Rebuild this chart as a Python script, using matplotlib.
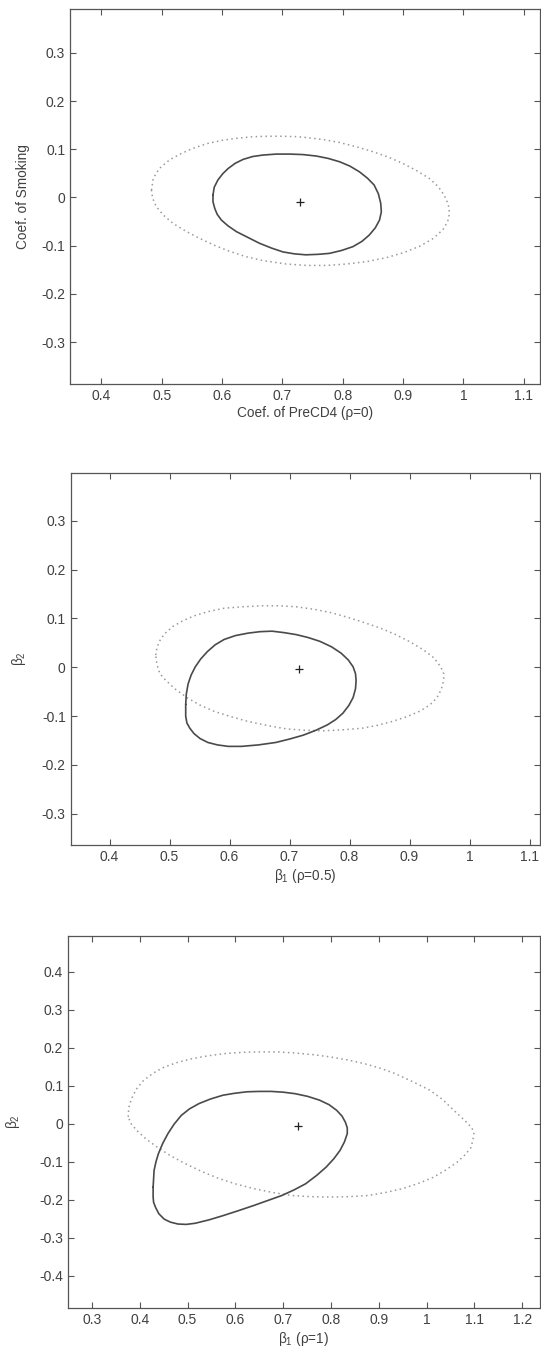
import matplotlib
matplotlib.use("Agg")
import matplotlib.pyplot as plt

plt.rcParams['font.family'] = ['Liberation Sans', 'DejaVu Sans']
plt.rcParams['mathtext.fontset'] = 'custom'
plt.rcParams['mathtext.rm'] = 'Liberation Sans'
plt.rcParams['mathtext.it'] = 'Liberation Sans:italic'
plt.rcParams['axes.unicode_minus'] = False

# ---------------- data ----------------
# Panel 1 (rho = 0)
p1_solid_x = [0.585, 0.587, 0.593, 0.601, 0.610, 0.622, 0.635, 0.651, 0.668, 0.690, 0.712, 0.734,
              0.756, 0.776, 0.795, 0.812, 0.828, 0.841, 0.852, 0.859, 0.863, 0.864, 0.861, 0.854,
              0.844, 0.832, 0.817, 0.798, 0.778, 0.759, 0.739, 0.720, 0.701, 0.682, 0.662, 0.643,
              0.624, 0.610, 0.599, 0.592, 0.588, 0.585, 0.585]
p1_solid_y = [0.005, 0.021, 0.036, 0.049, 0.060, 0.071, 0.079, 0.085, 0.088, 0.090, 0.090, 0.089,
              0.086, 0.081, 0.074, 0.065, 0.053, 0.040, 0.026, 0.008, -0.012, -0.030, -0.047, -0.063,
              -0.078, -0.091, -0.102, -0.110, -0.116, -0.118, -0.119, -0.117, -0.113, -0.105,
              -0.095, -0.083, -0.071, -0.059, -0.047, -0.035, -0.023, -0.009, 0.005]
p1_dot_x = [0.483, 0.486, 0.496, 0.513, 0.532, 0.552, 0.576, 0.602, 0.626, 0.651, 0.676, 0.701,
            0.726, 0.750, 0.773, 0.795, 0.823, 0.850, 0.875, 0.899, 0.922, 0.943, 0.958, 0.968,
            0.975, 0.977, 0.974, 0.966, 0.950, 0.928, 0.902, 0.872, 0.840, 0.807, 0.773, 0.740,
            0.706, 0.668, 0.640, 0.613, 0.587, 0.563, 0.540, 0.519, 0.503, 0.491, 0.485, 0.483]
p1_dot_y = [0.015, 0.040, 0.060, 0.078, 0.091, 0.102, 0.112, 0.119, 0.123, 0.126, 0.127, 0.127,
            0.126, 0.123, 0.119, 0.114, 0.105, 0.095, 0.084, 0.071, 0.056, 0.040, 0.023, 0.005,
            -0.014, -0.033, -0.050, -0.067, -0.085, -0.101, -0.114, -0.125, -0.133, -0.138,
            -0.141, -0.141, -0.138, -0.131, -0.123, -0.112, -0.099, -0.085, -0.070, -0.054,
            -0.037, -0.019, -0.002, 0.015]
p1_center = (0.730, -0.009)

# Panel 2 (rho = 0.5)
p2_solid_x = [0.527, 0.528, 0.531, 0.536, 0.543, 0.552, 0.563, 0.576, 0.591, 0.610, 0.631, 0.651,
              0.671, 0.691, 0.711, 0.731, 0.751, 0.770, 0.786, 0.798, 0.806, 0.810, 0.811, 0.810,
              0.806, 0.799, 0.789, 0.777, 0.763, 0.744, 0.723, 0.700, 0.677, 0.648, 0.620, 0.598,
              0.580, 0.564, 0.551, 0.541, 0.534, 0.529, 0.527, 0.527]
p2_solid_y = [-0.076, -0.055, -0.034, -0.016, 0.001, 0.017, 0.032, 0.046, 0.057, 0.065, 0.070, 0.073,
              0.074, 0.071, 0.067, 0.061, 0.053, 0.042, 0.029, 0.015, 0.001, -0.013, -0.027, -0.044,
              -0.062, -0.078, -0.094, -0.107, -0.118, -0.129, -0.139, -0.147, -0.154, -0.159,
              -0.162, -0.162, -0.159, -0.154, -0.146, -0.136, -0.125, -0.114, -0.100, -0.076]
p2_dot_x = [0.477, 0.479, 0.483, 0.492, 0.506, 0.522, 0.540, 0.564, 0.591, 0.622, 0.654, 0.683,
            0.711, 0.740, 0.769, 0.798, 0.826, 0.852, 0.877, 0.901, 0.923, 0.941, 0.952, 0.957,
            0.957, 0.953, 0.946, 0.934, 0.917, 0.896, 0.871, 0.846, 0.820, 0.789, 0.757, 0.725,
            0.694, 0.662, 0.631, 0.602, 0.574, 0.550, 0.529, 0.510, 0.494, 0.484, 0.479, 0.477]
p2_dot_y = [0.025, 0.040, 0.053, 0.069, 0.084, 0.095, 0.105, 0.114, 0.121, 0.124, 0.126, 0.126,
            0.124, 0.119, 0.112, 0.102, 0.091, 0.080, 0.067, 0.052, 0.036, 0.019, 0.001, -0.013,
            -0.027, -0.045, -0.062, -0.077, -0.090, -0.101, -0.111, -0.119, -0.125, -0.128,
            -0.130, -0.129, -0.126, -0.119, -0.111, -0.101, -0.090, -0.077, -0.062, -0.045,
            -0.027, -0.013, 0.006, 0.025]
p2_center = (0.716, -0.003)

# Panel 3 (rho = 1)
p3_solid_x = [0.428, 0.429, 0.430, 0.434, 0.439, 0.448, 0.459, 0.472, 0.487, 0.504, 0.524, 0.548,
              0.574, 0.598, 0.624, 0.650, 0.675, 0.700, 0.725, 0.751, 0.776, 0.796, 0.812, 0.823,
              0.830, 0.834, 0.834, 0.828, 0.819, 0.806, 0.790, 0.770, 0.747, 0.723, 0.697, 0.668,
              0.639, 0.606, 0.574, 0.545, 0.516, 0.497, 0.480, 0.464, 0.451, 0.440, 0.433, 0.429,
              0.428, 0.428]
p3_solid_y = [-0.167, -0.145, -0.123, -0.100, -0.079, -0.052, -0.026, -0.001, 0.022, 0.039, 0.053, 0.065,
              0.075, 0.080, 0.084, 0.085, 0.085, 0.083, 0.079, 0.072, 0.062, 0.050, 0.035, 0.020,
              0.004, -0.011, -0.026, -0.048, -0.070, -0.092, -0.114, -0.136, -0.158, -0.174,
              -0.189, -0.202, -0.215, -0.229, -0.242, -0.253, -0.262, -0.265, -0.264, -0.259,
              -0.251, -0.237, -0.220, -0.207, -0.193, -0.167]
p3_dot_x = [0.376, 0.377, 0.383, 0.393, 0.408, 0.428, 0.451, 0.478, 0.509, 0.544, 0.581, 0.617,
            0.653, 0.689, 0.725, 0.761, 0.797, 0.834, 0.870, 0.903, 0.934, 0.970, 1.007, 1.034,
            1.057, 1.080, 1.094, 1.099, 1.097, 1.093, 1.081, 1.064, 1.041, 1.014, 0.983, 0.949,
            0.914, 0.877, 0.837, 0.797, 0.757, 0.718, 0.678, 0.639, 0.602, 0.567, 0.530, 0.495,
            0.464, 0.437, 0.413, 0.394, 0.382, 0.376]
p3_dot_y = [0.018, 0.042, 0.066, 0.091, 0.114, 0.133, 0.149, 0.161, 0.171, 0.179, 0.185, 0.188,
            0.189, 0.189, 0.186, 0.182, 0.176, 0.168, 0.158, 0.146, 0.132, 0.111, 0.088, 0.063,
            0.035, 0.008, -0.010, -0.024, -0.040, -0.062, -0.081, -0.101, -0.121, -0.141,
            -0.157, -0.171, -0.181, -0.189, -0.192, -0.193, -0.192, -0.189, -0.181, -0.171,
            -0.159, -0.145, -0.126, -0.105, -0.084, -0.062, -0.040, -0.018, 0.000, 0.018]
p3_center = (0.731, -0.005)

# tick values / labels
p12_xticks = [0.4, 0.5, 0.6, 0.7, 0.8, 0.9, 1.0, 1.1]
p12_xticklabels = ["0.4", "0.5", "0.6", "0.7", "0.8", "0.9", "1", "1.1"]
p12_yticks = [-0.3, -0.2, -0.1, 0.0, 0.1, 0.2, 0.3]
p12_yticklabels = ["-0.3", "-0.2", "-0.1", "0", "0.1", "0.2", "0.3"]
p3_xticks = [0.3, 0.4, 0.5, 0.6, 0.7, 0.8, 0.9, 1.0, 1.1, 1.2]
p3_xticklabels = ["0.3", "0.4", "0.5", "0.6", "0.7", "0.8", "0.9", "1", "1.1", "1.2"]
p3_yticks = [-0.4, -0.3, -0.2, -0.1, 0.0, 0.1, 0.2, 0.3, 0.4]
p3_yticklabels = ["-0.4", "-0.3", "-0.2", "-0.1", "0", "0.1", "0.2", "0.3", "0.4"]

xlabels = ["Coef. of PreCD4 (ρ=0)", "β$_1$ (ρ=0.5)", "β$_1$ (ρ=1)"]
ylabels = ["Coef. of Smoking", "β$_2$", "β$_2$"]

# ---------------- layout ----------------
W, H = 541, 1353
fig = plt.figure(figsize=(W / 100, H / 100), dpi=100)

def rect(left, top, bottom, right=540):
    return [left / W, 1 - bottom / H, (right - left) / W, (bottom - top) / H]

panels = [
    dict(rect=rect(70, 9, 384), xlim=(0.348, 1.127), ylim=(-0.387, 0.391), ylab_px=30,
         sx=p1_solid_x, sy=p1_solid_y, dx=p1_dot_x, dy=p1_dot_y, c=p1_center,
         xt=p12_xticks, xtl=p12_xticklabels, yt=p12_yticks, ytl=p12_yticklabels),
    dict(rect=rect(70.5, 473, 845), xlim=(0.335, 1.1175), ylim=(-0.364, 0.398), ylab_px=28,
         sx=p2_solid_x, sy=p2_solid_y, dx=p2_dot_x, dy=p2_dot_y, c=p2_center,
         xt=p12_xticks, xtl=p12_xticklabels, yt=p12_yticks, ytl=p12_yticklabels),
    dict(rect=rect(68, 936, 1308), xlim=(0.250, 1.237), ylim=(-0.485, 0.494), ylab_px=22,
         sx=p3_solid_x, sy=p3_solid_y, dx=p3_dot_x, dy=p3_dot_y, c=p3_center,
         xt=p3_xticks, xtl=p3_xticklabels, yt=p3_yticks, ytl=p3_yticklabels),
]

text_color = "#404040"
for i, p in enumerate(panels):
    ax = fig.add_axes(p["rect"])
    ax.plot(p["dx"], p["dy"], linestyle=(0, (1, 2.2)), color="#9a9a9a", linewidth=1.1)
    ax.plot(p["sx"], p["sy"], linestyle="-", color="#4a4a4a", linewidth=1.2,
            solid_joinstyle="round", solid_capstyle="round")
    ax.plot([p["c"][0]], [p["c"][1]], marker="+", color="#222222", markersize=6,
            markeredgewidth=0.9, linestyle="none")
    ax.set_xlim(*p["xlim"])
    ax.set_ylim(*p["ylim"])
    ax.set_xticks(p["xt"])
    ax.set_xticklabels(p["xtl"])
    ax.set_yticks(p["yt"])
    ax.set_yticklabels(p["ytl"])
    ax.tick_params(direction="in", length=4, width=0.8, top=True, right=True,
                   labelsize=10, colors="#555555", labelcolor=text_color, pad=3.5)
    for s in ax.spines.values():
        s.set_color("#555555")
        s.set_linewidth(0.9)
    ax.set_xlabel(xlabels[i], fontsize=9.8, color=text_color, labelpad=2)
    ax.set_ylabel(ylabels[i], fontsize=9.8, color=text_color)
    left_px = p["rect"][0] * W
    width_px = p["rect"][2] * W
    ax.yaxis.set_label_coords((p["ylab_px"] - left_px) / width_px, 0.5)

fig.savefig("out.png", dpi=100, facecolor="white")
